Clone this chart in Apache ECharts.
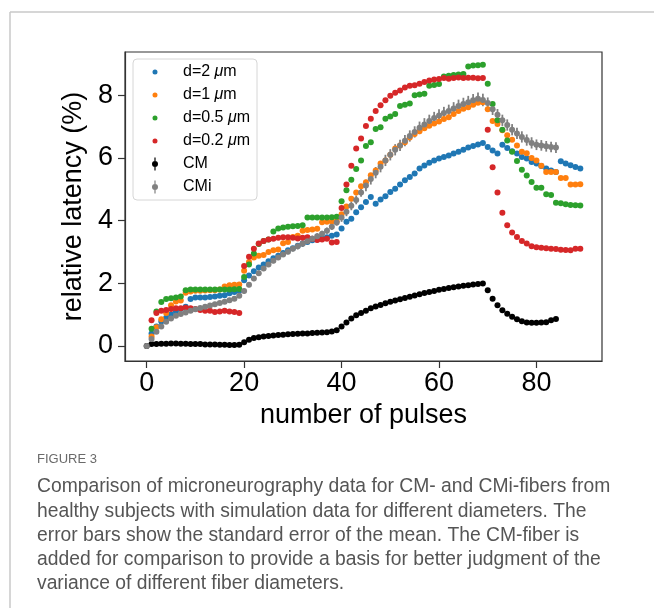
<!DOCTYPE html>
<html>
<head>
<meta charset="UTF-8" />
<title>Figure 3 - relative latency</title>
<script src="https://cdn.jsdelivr.net/npm/echarts@6/dist/echarts.min.js"></script>
<style>
  html, body { margin: 0; padding: 0; background: #fff; }
  #chart { width: 654px; height: 608px; }
</style>
</head>
<body>
<div id="chart"></div>
<script>
// simulation series, pulses 1..89
const d2 = [0.40,0.62,0.78,0.90,1.00,1.10,1.18,1.25,1.50,1.55,1.55,1.55,1.56,1.58,1.60,1.62,1.68,1.72,1.76,
  2.10,2.25,2.38,2.50,2.60,2.70,2.80,2.88,2.97,3.05,3.12,3.20,3.27,3.32,3.37,3.40,3.43,3.47,3.52,3.56,
  3.75,3.96,4.06,4.27,4.43,4.59,4.75,4.54,4.67,4.78,4.91,5.02,5.15,5.29,5.39,5.50,5.66,5.76,5.85,5.92,
  5.98,6.03,6.08,6.14,6.20,6.26,6.33,6.38,6.43,6.48,6.35,6.24,6.14,6.42,6.32,6.21,6.14,6.03,5.98,5.87,
  5.82,5.74,5.66,5.60,5.55,5.89,5.82,5.77,5.71,5.66];
const d1 = [0.30,0.60,0.85,1.05,1.30,1.42,1.45,1.70,1.74,1.76,1.76,1.77,1.78,1.78,1.80,1.90,1.94,1.95,1.96,
  2.40,2.68,2.82,2.88,2.90,3.00,3.05,3.08,3.28,3.32,3.48,3.52,3.68,3.70,3.72,3.74,3.95,3.96,3.97,3.98,
  4.20,4.45,4.70,4.90,5.10,5.22,5.45,5.60,5.82,5.92,6.10,6.30,6.40,6.50,6.65,6.76,6.85,6.95,7.03,7.10,
  7.16,7.24,7.30,7.40,7.50,7.57,7.62,7.70,7.76,7.78,7.55,7.18,7.08,6.88,6.72,6.58,6.40,6.20,6.15,6.00,
  5.92,5.75,5.55,5.55,5.55,5.36,5.36,5.15,5.15,5.16];
const d05 = [0.55,1.10,1.40,1.50,1.52,1.55,1.58,1.78,1.80,1.80,1.80,1.80,1.80,1.80,1.80,1.80,1.80,1.81,1.82,
  2.20,2.60,2.95,3.25,3.35,3.40,3.65,3.75,3.78,3.80,3.82,3.83,3.85,4.10,4.10,4.10,4.10,4.10,4.11,4.12,
  4.62,4.97,5.30,5.65,5.92,6.38,6.50,6.92,6.98,7.25,7.32,7.40,7.66,7.70,7.74,8.00,8.02,8.05,8.30,8.33,
  8.36,8.60,8.62,8.65,8.66,8.68,8.92,8.95,8.96,8.97,8.37,7.72,7.20,6.90,6.56,6.20,5.90,5.62,5.44,5.23,
  5.05,5.05,4.84,4.82,4.57,4.55,4.52,4.50,4.49,4.48];
const d02 = [0.82,1.05,1.12,1.15,1.18,1.20,1.20,1.22,1.20,1.18,1.15,1.12,1.12,1.08,1.10,1.12,1.10,1.08,1.05,
  2.55,2.85,3.10,3.27,3.35,3.40,3.42,3.45,3.47,3.47,3.45,3.43,3.45,3.47,3.42,3.38,3.40,3.42,3.30,3.32,
  4.40,5.15,5.75,6.30,6.62,7.02,7.25,7.50,7.68,7.84,7.98,8.08,8.15,8.25,8.30,8.32,8.37,8.42,8.47,8.50,
  8.52,8.55,8.53,8.55,8.57,8.55,8.56,8.56,8.54,8.55,6.90,5.70,4.90,4.25,3.85,3.62,3.48,3.35,3.27,3.18,
  3.15,3.13,3.12,3.10,3.09,3.07,3.06,3.05,3.10,3.10];

// microneurography means and standard errors, pulses 0..84
const cm = [0.00,0.06,0.06,0.07,0.07,0.08,0.08,0.07,0.07,0.06,0.06,0.06,0.05,0.05,0.05,0.04,0.04,0.03,0.03,0.04,
  0.12,0.20,0.25,0.28,0.30,0.32,0.33,0.35,0.36,0.37,0.38,0.39,0.40,0.40,0.41,0.42,0.43,0.44,0.46,0.50,
  0.62,0.75,0.88,0.98,1.05,1.12,1.20,1.26,1.31,1.36,1.41,1.45,1.49,1.53,1.57,1.61,1.65,1.69,1.72,1.75,
  1.79,1.82,1.85,1.87,1.90,1.92,1.94,1.96,1.98,1.99,1.78,1.51,1.30,1.14,1.03,0.93,0.85,0.79,0.75,0.74,
  0.74,0.75,0.76,0.82,0.86];
const cmErr = [0.00,0.02,0.02,0.02,0.02,0.02,0.02,0.02,0.02,0.02,0.02,0.02,0.02,0.02,0.02,0.02,0.02,0.02,0.02,0.02,
  0.02,0.02,0.02,0.02,0.02,0.02,0.02,0.02,0.02,0.02,0.02,0.02,0.02,0.02,0.02,0.02,0.02,0.02,0.02,0.03,
  0.03,0.03,0.03,0.03,0.03,0.03,0.03,0.03,0.04,0.04,0.04,0.04,0.04,0.04,0.04,0.04,0.04,0.04,0.04,0.04,
  0.04,0.04,0.04,0.04,0.04,0.04,0.04,0.04,0.04,0.04,0.04,0.04,0.04,0.04,0.04,0.04,0.04,0.04,0.04,0.04,
  0.04,0.04,0.04,0.04,0.04];
const cmi = [0.00,0.22,0.45,0.62,0.77,0.88,0.96,1.02,1.07,1.12,1.17,1.21,1.25,1.29,1.33,1.37,1.41,1.46,1.51,1.60,
  1.75,1.95,2.15,2.32,2.47,2.60,2.72,2.82,2.92,3.01,3.10,3.18,3.26,3.34,3.42,3.50,3.58,3.68,3.80,3.94,
  4.10,4.28,4.47,4.66,4.90,5.12,5.33,5.53,5.72,5.92,6.10,6.26,6.40,6.55,6.70,6.83,6.96,7.07,7.18,7.27,
  7.35,7.43,7.50,7.58,7.66,7.72,7.78,7.84,7.89,7.85,7.75,7.55,7.38,7.20,7.05,6.90,6.78,6.67,6.57,6.48,
  6.42,6.40,6.37,6.35,6.33];
const cmiErr = [0.00,0.04,0.04,0.04,0.04,0.04,0.05,0.05,0.05,0.05,0.05,0.05,0.05,0.05,0.05,0.05,0.05,0.05,0.05,0.05,
  0.08,0.08,0.08,0.08,0.08,0.08,0.08,0.08,0.08,0.08,0.08,0.10,0.10,0.10,0.10,0.10,0.10,0.10,0.10,0.10,
  0.14,0.14,0.14,0.14,0.14,0.18,0.18,0.18,0.18,0.18,0.18,0.18,0.18,0.18,0.18,0.18,0.20,0.20,0.20,0.20,
  0.20,0.20,0.20,0.20,0.20,0.20,0.20,0.20,0.20,0.20,0.18,0.18,0.18,0.18,0.18,0.18,0.18,0.18,0.18,0.18,
  0.17,0.17,0.17,0.17,0.17];

const xTicks = [0, 20, 40, 60, 80];
const yTicks = [0, 2, 4, 6, 8];

const captionTitle = 'FIGURE 3';
const captionLines = [
  'Comparison of microneurography data for CM- and CMi-fibers from',
  'healthy subjects with simulation data for different diameters. The',
  'error bars show the standard error of the mean. The CM-fiber is',
  'added for comparison to provide a basis for better judgment of the',
  'variance of different fiber diameters.'
];

const FONT = '"Liberation Sans", Arial, sans-serif';

// legend icons: small dot, dot with error bar (corner specks keep the box size)
const pad = ' M0,0 L0.01,0 L0,0.01 Z M12,16 L11.99,16 L12,15.99 Z';
const dotIcon = 'path://M3.5,8 A2.5,2.5 0 1 1 8.5,8 A2.5,2.5 0 1 1 3.5,8 Z' + pad;
const barIcon = 'path://M5.4,1.5 L6.6,1.5 L6.6,14.5 L5.4,14.5 Z M3,8 A3,3 0 1 1 9,8 A3,3 0 1 1 3,8 Z' + pad;

function simSeries(name, vals, color) {
  return {
    type: 'scatter', name: name,
    data: vals.map((v, i) => [i + 1, v]),
    symbolSize: 6,
    itemStyle: { color: color, opacity: 1 },
    silent: true
  };
}

function errSeries(name, vals, errs, color) {
  return [{
    type: 'scatter', name: name,
    data: vals.map((v, i) => [i, v]),
    symbolSize: 6,
    itemStyle: { color: color, opacity: 1 },
    silent: true
  }, {
    type: 'custom', name: name,
    data: vals.map((v, i) => [i, v - errs[i], v + errs[i]]),
    encode: { x: 0, y: [1, 2] },
    silent: true,
    renderItem: function (params, api) {
      const a = api.coord([api.value(0), api.value(1)]);
      const b = api.coord([api.value(0), api.value(2)]);
      return {
        type: 'line',
        shape: { x1: a[0], y1: a[1], x2: b[0], y2: b[1] },
        style: { stroke: color, lineWidth: 1.8 }
      };
    }
  }];
}

const chart = echarts.init(document.getElementById('chart'));

chart.setOption({
  animation: false,
  backgroundColor: '#fff',
  grid: {
    left: 125, top: 52, width: 477, height: 309,
    show: true, borderColor: '#333', borderWidth: 1.2, backgroundColor: 'transparent'
  },
  xAxis: {
    type: 'value', min: -4.45, max: 93.45,
    name: 'number of pulses', nameLocation: 'middle', nameGap: 40,
    nameTextStyle: { fontSize: 27, fontFamily: FONT, color: '#000' },
    axisLine: { show: true, onZero: false, lineStyle: { color: '#333', width: 1.2 } },
    axisTick: { show: true, length: 7, customValues: xTicks, lineStyle: { color: '#333', width: 1.2 } },
    axisLabel: { customValues: xTicks, fontSize: 27, fontFamily: FONT, color: '#000', margin: 9 },
    splitLine: { show: false }
  },
  yAxis: {
    type: 'value', min: -0.48, max: 9.38,
    name: 'relative latency (%)', nameLocation: 'middle', nameGap: 37,
    nameTextStyle: { fontSize: 27, fontFamily: FONT, color: '#000' },
    axisLine: { show: true, onZero: false, lineStyle: { color: '#333', width: 1.2 } },
    axisTick: { show: true, length: 7, customValues: yTicks, lineStyle: { color: '#333', width: 1.2 } },
    axisLabel: { customValues: yTicks, fontSize: 27, fontFamily: FONT, color: '#000', margin: 12 },
    splitLine: { show: false }
  },
  legend: {
    orient: 'vertical', left: 133, top: 59,
    padding: [5, 7, 5, 16],
    itemWidth: 12, itemHeight: 16, itemGap: 7,
    selectedMode: false,
    backgroundColor: 'rgba(255,255,255,0.85)',
    borderColor: '#d6d6d6', borderWidth: 1, borderRadius: 4,
    data: [
      { name: 'd=2 μm', icon: dotIcon },
      { name: 'd=1 μm', icon: dotIcon },
      { name: 'd=0.5 μm', icon: dotIcon },
      { name: 'd=0.2 μm', icon: dotIcon },
      { name: 'CM', icon: barIcon },
      { name: 'CMi', icon: barIcon }
    ],
    formatter: function (name) {
      const k = name.indexOf(' μ');
      if (k < 0) return '{s|}{t|' + name + '}';
      return '{s|}{t|' + name.slice(0, k) + ' }{i|μ}{t|m}';
    },
    textStyle: {
      fontSize: 16, fontFamily: FONT, color: '#000',
      rich: {
        s: { width: 17 },
        t: { fontSize: 16, fontFamily: FONT, color: '#000' },
        i: { fontSize: 16, fontFamily: FONT, color: '#000', fontStyle: 'italic' }
      }
    }
  },
  graphic: [
    { type: 'line', silent: true, shape: { x1: 10, y1: 12, x2: 654, y2: 12 }, style: { stroke: '#c8c8c8', lineWidth: 1.5 } },
    { type: 'line', silent: true, shape: { x1: 10, y1: 12, x2: 10, y2: 608 }, style: { stroke: '#c8c8c8', lineWidth: 1.5 } },
    { type: 'text', left: 37, top: 453, silent: true,
      style: { text: captionTitle, fontSize: 13, fontFamily: FONT, fill: '#6a6a6a' } },
    { type: 'text', left: 37, top: 475, silent: true,
      style: { text: captionLines.join('\n'), fontSize: 19.3, lineHeight: 24.2, fontFamily: FONT, fill: '#555' } }
  ],
  series: [
    simSeries('d=2 μm', d2, '#1f77b4'),
    simSeries('d=1 μm', d1, '#ff7f0e'),
    simSeries('d=0.5 μm', d05, '#2ca02c'),
    simSeries('d=0.2 μm', d02, '#d62728'),
    ...errSeries('CM', cm, cmErr, '#000000'),
    ...errSeries('CMi', cmi, cmiErr, '#808080')
  ]
});
</script>
</body>
</html>
